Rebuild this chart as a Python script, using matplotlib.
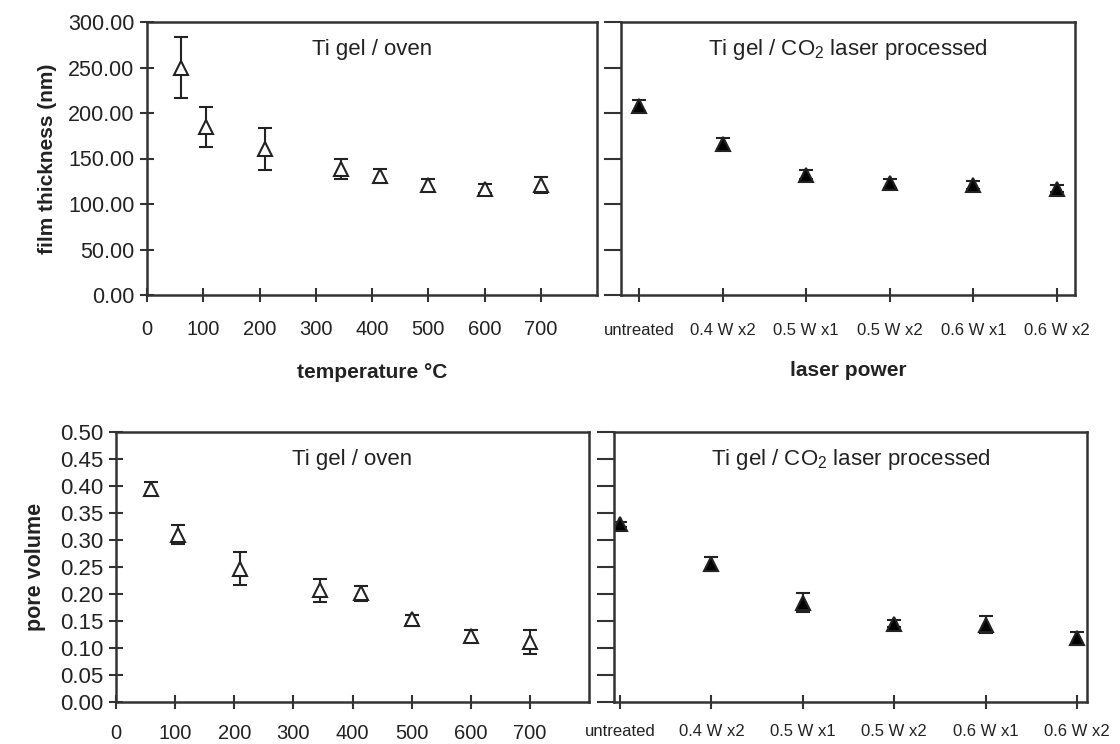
import matplotlib
matplotlib.use('Agg')
import matplotlib.pyplot as plt

plt.rcParams['font.family'] = ['Liberation Sans', 'DejaVu Sans']
plt.rcParams['mathtext.default'] = 'regular'

# Oven-annealed films
oven_temp = [60, 105, 210, 345, 415, 500, 600, 700]
oven_thick = [250, 185, 160, 138, 131, 121, 117, 121]
oven_thick_err = [33, 22, 23, 11, 7, 6, 5, 9]
oven_pore = [0.395, 0.310, 0.247, 0.207, 0.201, 0.153, 0.123, 0.111]
oven_pore_err = [0.012, 0.017, 0.030, 0.021, 0.014, 0.008, 0.010, 0.022]

# CO2 laser processed films
laser_labels = ['untreated', '0.4 W x2', '0.5 W x1', '0.5 W x2', '0.6 W x1', '0.6 W x2']
laser_thick = [208, 166, 132, 123, 121, 117]
laser_thick_err = [6, 6, 5, 5, 4, 4]
laser_pore = [0.329, 0.256, 0.184, 0.145, 0.143, 0.118]
laser_pore_err = [0.005, 0.013, 0.018, 0.007, 0.016, 0.012]

temp_ticks = [0, 100, 200, 300, 400, 500, 600, 700]
thick_ticks = [0, 50, 100, 150, 200, 250, 300]
pore_ticks = [0.00, 0.05, 0.10, 0.15, 0.20, 0.25, 0.30, 0.35, 0.40, 0.45, 0.50]

ink = '#222222'
W, H = 1120, 744
fig = plt.figure(figsize=(W / 100, H / 100), dpi=100)


def box(l, t, r, b):
    return [l / W, (H - b) / H, (r - l) / W, (b - t) / H]


ax_tl = fig.add_axes(box(147, 22, 597, 295))
ax_tr = fig.add_axes(box(621, 22, 1075, 295))
ax_bl = fig.add_axes(box(116, 432, 589, 702))
ax_br = fig.add_axes(box(614, 432, 1087, 702))

err_kw = dict(fmt='^', ms=10, mew=1.5, ecolor=ink, elinewidth=1.5,
              capsize=5, capthick=1.5, mec=ink, linestyle='none')

laser_x = list(range(1, len(laser_labels) + 1))

ax_tl.errorbar(oven_temp, oven_thick, yerr=oven_thick_err, mfc='white', **err_kw)
ax_tr.errorbar(laser_x, laser_thick, yerr=laser_thick_err, mfc='black', **err_kw)
ax_bl.errorbar(oven_temp, oven_pore, yerr=oven_pore_err, mfc='white', **err_kw)
ax_br.errorbar(laser_x, laser_pore, yerr=laser_pore_err, mfc='black', **err_kw)

for ax in (ax_tl, ax_tr, ax_bl, ax_br):
    for s in ax.spines.values():
        s.set_linewidth(1.8)
        s.set_color('#333333')

# oven panels
for ax, ticks, ylab_size, xpad in ((ax_tl, thick_ticks, 15.5, 13), (ax_bl, pore_ticks, 16, 11)):
    ax.set_xlim(0, 800)
    ax.set_xticks(temp_ticks)
    ax.set_xticklabels([str(t) for t in temp_ticks])
    ax.set_ylim(ticks[0], ticks[-1])
    ax.set_yticks(ticks)
    ax.set_yticklabels(['{:.2f}'.format(t) for t in ticks])
    ax.tick_params(axis='both', direction='inout', length=10, width=1.5,
                   color='#333333', labelcolor=ink)
    ax.tick_params(axis='x', pad=xpad, labelsize=14.5)
    ax.tick_params(axis='y', pad=4, labelsize=ylab_size)

# laser panels
for ax, ticks, xlim, xpad in ((ax_tr, thick_ticks, (0.785, 6.215), 15),
                              (ax_br, pore_ticks, (0.934, 6.11), 11)):
    ax.set_xlim(*xlim)
    ax.set_xticks(laser_x)
    ax.set_xticklabels(laser_labels)
    ax.set_ylim(ticks[0], ticks[-1])
    ax.set_yticks(ticks)
    ax.set_yticklabels([])
    ax.tick_params(axis='x', direction='inout', length=10, width=1.5,
                   color='#333333', labelsize=12, labelcolor=ink, pad=xpad)
    ax.tick_params(axis='y', direction='out', length=12, width=1.5, color='#333333')

ax_tl.set_ylabel('film thickness (nm)', fontsize=15, fontweight='bold', color=ink, labelpad=8)
ax_bl.set_ylabel('pore volume', fontsize=15.5, fontweight='bold', color=ink, labelpad=10)
ax_tl.set_xlabel('temperature \u00b0C', fontsize=15, fontweight='bold', color=ink, labelpad=17)
ax_tr.set_xlabel('laser power', fontsize=15, fontweight='bold', color=ink, labelpad=17)

for ax, title in ((ax_tl, 'Ti gel / oven'), (ax_bl, 'Ti gel / oven'),
                  (ax_tr, 'Ti gel / CO$_2$ laser processed'),
                  (ax_br, 'Ti gel / CO$_2$ laser processed')):
    ax.text(0.5, 0.9, title, transform=ax.transAxes, ha='center', va='center',
            fontsize=16, color=ink)

fig.savefig('out.png', dpi=100)
